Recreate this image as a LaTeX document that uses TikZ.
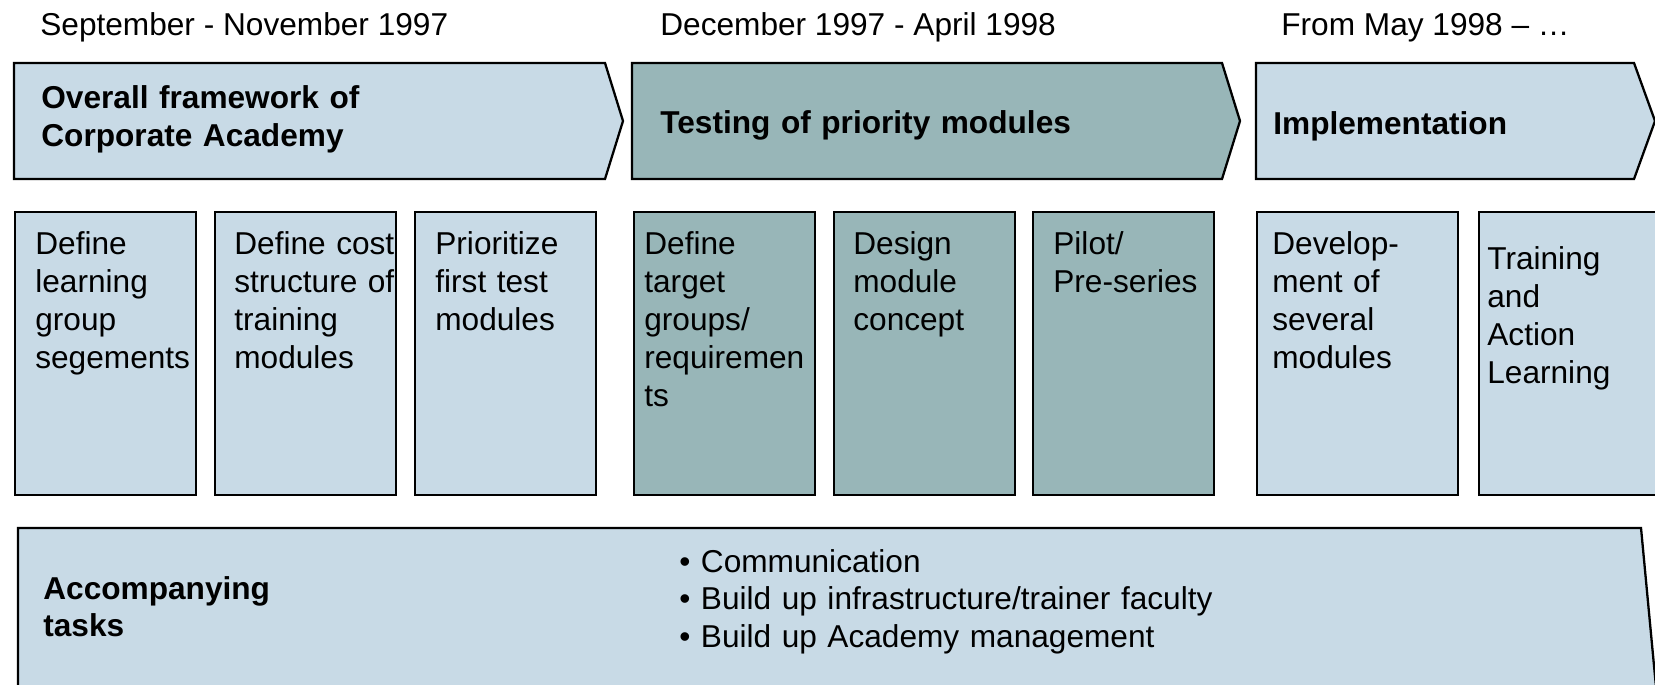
\documentclass[tikz,border=0pt]{standalone}
\usepackage{fontspec}
\setmainfont{Liberation Sans}
\usetikzlibrary{positioning}

\definecolor{phaselight}{RGB}{200,218,230}
\definecolor{phasedark}{RGB}{152,182,184}

\begin{document}
\begin{tikzpicture}[
    x=0.02cm,
    y=-0.02cm,
    chevron/.style={
        draw=black,
        line width=1.3pt,
        line join=miter
    },
    taskbox/.style={
        rectangle,
        draw=black,
        line width=1.3pt,
        anchor=north west,
        minimum width=3.62cm,
        minimum height=5.66cm,
        inner sep=0pt
    },
    tasktext/.style={
        anchor=base west,
        align=left,
        text width=6cm,
        inner sep=0pt,
        font=\fontsize{18}{21.6}\selectfont
    },
    phasetitle/.style={
        anchor=base west,
        align=left,
        text width=14cm,
        inner sep=0pt,
        font=\fontsize{18}{21.6}\bfseries\selectfont
    },
    datelabel/.style={
        anchor=base west,
        inner sep=0pt,
        font=\fontsize{18}{21.6}\selectfont
    }
]

\useasboundingbox (0,0) rectangle (1655,685);
\clip (0,0) rectangle (1655,685);

% ========== TIME LINE ==========

\node[datelabel] (date1) at (40,36) {September - November 1997};
\node[datelabel] (date2) at (660,36) {December 1997 - April 1998};
\node[datelabel] (date3) at (1281,36) {From May 1998 – …};

% ========== PHASES ==========

\draw[chevron, fill=phaselight] (14,63) -- (605,63) -- (623,121) -- (605,179) -- (14,179) -- cycle;
\draw[chevron, fill=phasedark] (632,63) -- (1222,63) -- (1240,121) -- (1222,179) -- (632,179) -- cycle;
\draw[chevron, fill=phaselight] (1256,63) -- (1634,63) -- (1655,121) -- (1634,179) -- (1256,179) -- cycle;

\node[phasetitle] (framework) at (41,109) {Overall framework of\\Corporate Academy};
\node[phasetitle] (testing) at (660,134) {Testing of priority modules};
\node[phasetitle] (implement) at (1273,135) {Implementation};

% ========== TASKS - PHASE 1 ==========

\node[taskbox, fill=phaselight] (segments) at (14,211) {};
\node[taskbox, fill=phaselight] (cost) at (214,211) {};
\node[taskbox, fill=phaselight] (prioritize) at (414,211) {};

\node[tasktext] (segmentstext) at (35,255) {Define\\learning\\group\\segements};
\node[tasktext] (costtext) at (234,255) {Define cost\\structure of\\training\\modules};
\node[tasktext] (prioritizetext) at (435,255) {Prioritize\\first test\\modules};

% ========== TASKS - PHASE 2 ==========

\node[taskbox, fill=phasedark] (target) at (633,211) {};
\node[taskbox, fill=phasedark] (design) at (833,211) {};
\node[taskbox, fill=phasedark] (pilot) at (1032,211) {};

\node[tasktext] (targettext) at (644,255) {Define\\target\\groups/\\requiremen\\ts};
\node[tasktext] (designtext) at (853,255) {Design\\module\\concept};
\node[tasktext] (pilottext) at (1053,255) {Pilot/\\Pre-series};

% ========== TASKS - PHASE 3 ==========

\node[taskbox, fill=phaselight, minimum width=4.02cm] (develop) at (1256,211) {};
\node[taskbox, fill=phaselight, minimum width=4.02cm] (training) at (1478,211) {};

\node[tasktext] (developtext) at (1272,255) {Develop-\\ment of\\several\\modules};
\node[tasktext] (trainingtext) at (1487,270) {Training\\and\\Action\\Learning};

% ========== ACCOMPANYING TASKS ==========

\draw[chevron, fill=phaselight] (18,528) -- (1641,528) -- (1661,740) -- (1641,952) -- (18,952) -- cycle;

\node[phasetitle] (accompany) at (43,599) {Accompanying\\tasks};
\node[tasktext, text width=12cm] (bullets) at (679,572) {• Communication\\• Build up infrastructure/trainer faculty\\• Build up Academy management};

\end{tikzpicture}
\end{document}
